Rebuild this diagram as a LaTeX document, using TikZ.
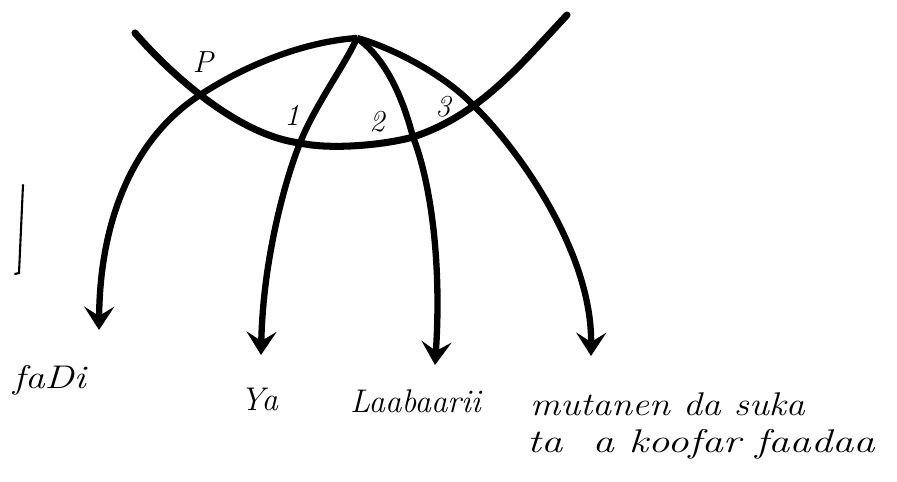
\documentclass[tikz,border=0pt]{standalone}
\usepackage{xcolor}
\usepackage{tikz}
\usetikzlibrary{arrows.meta, positioning, calc}
\definecolor{myink}{RGB}{0,0,0}
\tikzset{
  arrow/.style={-{Stealth[length=0.7cm, width=0.9cm, inset=0.28cm]}, line width=5.4pt, color=myink},
  line/.style={line width=6pt, color=myink, line cap=round},
  thinline/.style={line width=1.8pt, color=myink, line cap=round},
  lbl/.style={font=\fontsize{28}{32}\selectfont\itshape, inner sep=0pt, anchor=base west},
  num/.style={font=\fontsize{26}{30}\selectfont\itshape, inner sep=0pt}
}

\begin{document}
\begin{tikzpicture}[x=0.03cm, y=-0.03cm]
  \useasboundingbox (0,0) rectangle (897,482);

  % Crossing points and arrow ends
  \coordinate (apex) at (357,38);
  \coordinate (uL) at (135,33);
  \coordinate (uR) at (567,15);
  \coordinate (xP) at (197,97);
  \coordinate (x1) at (300,143);
  \coordinate (x2) at (413,137);
  \coordinate (x3) at (473,105);
  \coordinate (tP) at (99,330);
  \coordinate (t1) at (261,355);
  \coordinate (t2) at (435,365);
  \coordinate (t3) at (591,356);

  % Lower curve
  \draw[line] (uL) .. controls (165,68) and (235,135) .. (x1)
    .. controls (330,150) and (385,145) .. (x2)
    .. controls (480,115) and (520,65) .. (uR);

  % Arrows from the top point
  \draw[arrow] (apex) .. controls (300,42) and (240,68) .. (xP)
    .. controls (140,135) and (100,210) .. (tP);
  \draw[arrow] (apex) .. controls (345,65) and (315,105) .. (x1)
    .. controls (285,180) and (263,260) .. (t1);
  \draw[arrow] (apex) .. controls (385,58) and (402,95) .. (x2)
    .. controls (430,180) and (442,260) .. (t2);
  \draw[arrow] (apex) .. controls (400,50) and (450,80) .. (x3)
    .. controls (515,145) and (592,250) .. (t3);

  % Small marks
  \node[num] (nP) at (203,62) {P};
  \node[num] (n1) at (292,115) {1};
  \node[num] (n2) at (377,122) {2};
  \node[num] (n3) at (443,107) {3};

  % Bar on the left
  \coordinate (barT) at (23,185);
  \coordinate (barB) at (19,273);
  \draw[thinline] (barT) -- (barB) -- ++(-4,1);

  % Labels
  \node[lbl] (fadi) at (13,388) {\scalebox{1.2}[1]{faDi}};
  \node[lbl] (ya) at (240,410) {Ya};
  \node[lbl] (labari) at (350,412) {Laabaarii};
  \node[lbl] (mutane) at (530,415) {\scalebox{1.15}[1]{mutanen da suka}};
  \node[lbl] (kofa) at (527,452) {\scalebox{1.3}[1]{ta\hspace{0.7cm}a koofar faadaa}};
\end{tikzpicture}
\end{document}
